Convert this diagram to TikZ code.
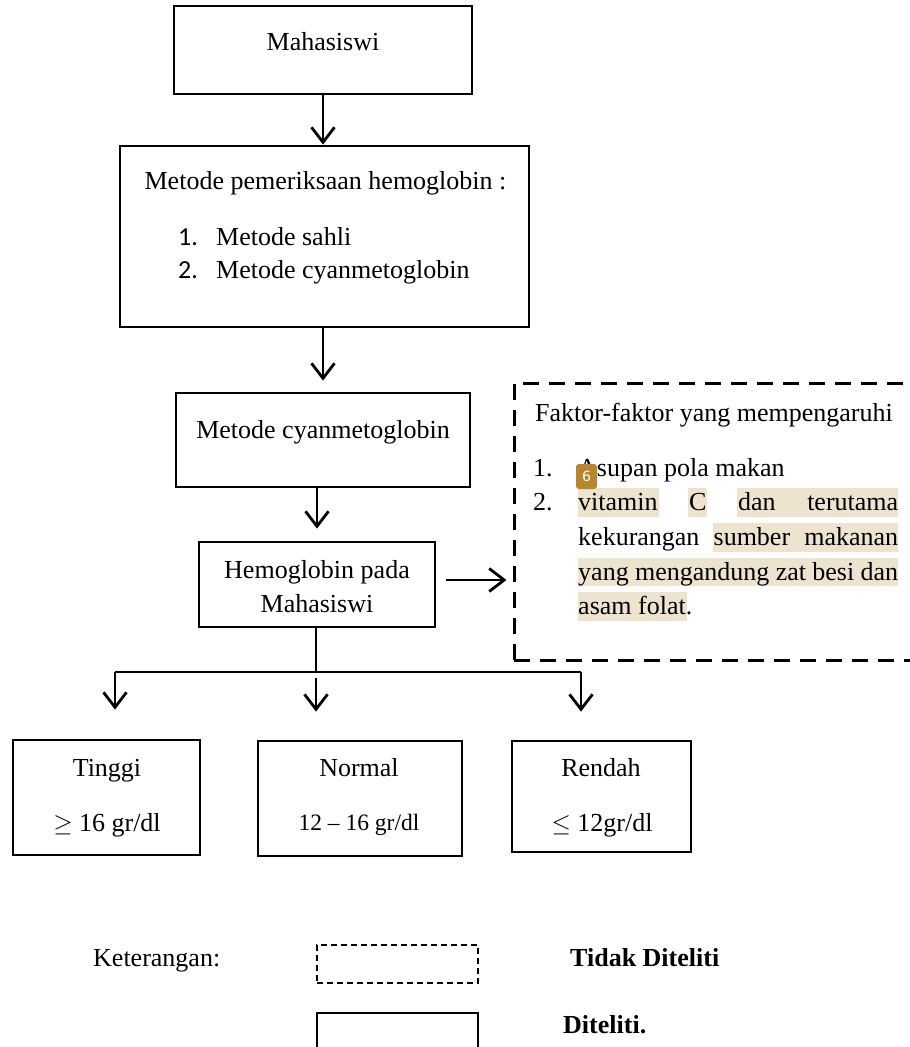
\documentclass[tikz,border=0pt]{standalone}
\usepackage{fontspec}
\setmainfont{Liberation Serif}
\newfontfamily\numfont{Carlito}
\newfontfamily\badgefont{DejaVu Sans}
\usetikzlibrary{arrows.meta}
\definecolor{hlc}{HTML}{EDE3CF}
\definecolor{badgec}{HTML}{B8862E}
\tikzset{
  box/.style={draw, line width=2.8pt, inner sep=0pt},
  dbox/.style={draw, line width=3pt, dash pattern=on 16pt off 10pt, inner sep=0pt},
  arr/.style={line width=2.8pt, -{Straight Barb[length=15pt,width=23pt]}},
  ln/.style={line width=2.8pt},
  txt/.style={font=\fontsize{26}{34}\selectfont, inner sep=0pt, anchor=base},
  txtl/.style={txt, anchor=base west},
  hl/.style={fill=hlc, draw=none},
}
\begin{document}
\begin{tikzpicture}[x=1pt,y=-1pt]
\useasboundingbox[fill=white] (0,0) rectangle (910,1047);

% boxes
\node[box, minimum width=298pt, minimum height=88pt] (mah) at (323,50) {};
\node[box, minimum width=409pt, minimum height=181pt] (met) at (324.5,236.5) {};
\node[box, minimum width=294pt, minimum height=94pt] (cyan) at (323,440) {};
\node[box, minimum width=236pt, minimum height=85pt] (hb) at (317,584.5) {};
\node[dbox, minimum width=420pt, minimum height=277pt] (fak) at (724,521.5) {};
\node[box, minimum width=187pt, minimum height=115pt] (ting) at (106.5,797.5) {};
\node[box, minimum width=204pt, minimum height=115pt] (norm) at (360,798.5) {};
\node[box, minimum width=179pt, minimum height=111pt] (rend) at (601.5,796.5) {};

% texts
\node[txt] (tmah) at (323,50) {Mahasiswi};
\node[txt] (tmet) at (325.5,189) {Metode pemeriksaan hemoglobin :};
\node[txtl] (n1) at (178,245) {\numfont 1.};
\node[txtl] (i1) at (216,245) {Metode sahli};
\node[txtl] (n2) at (178,278) {\numfont 2.};
\node[txtl] (i2) at (216,278) {Metode cyanmetoglobin};
\node[txt] (tcyan) at (323,438) {Metode cyanmetoglobin};
\node[txt] (thb1) at (317,578) {Hemoglobin pada};
\node[txt] (thb2) at (317,612) {Mahasiswi};

% highlights in factor box
\fill[hl] (578,488) rectangle (659,517);
\fill[hl] (688,488) rectangle (707,517);
\fill[hl] (737,488) rectangle (898,517);
\fill[hl] (713,523) rectangle (898,552);
\fill[hl] (578,558) rectangle (898,586);
\fill[hl] (578,592) rectangle (687,621);

\node[txtl] (tfak) at (535,421) {Faktor-faktor yang mempengaruhi};
\node[txtl] (f1n) at (533,476) {1.};
\node[txtl] (f1) at (578,476) {Asupan pola makan};
\node[txtl] (f2n) at (533,510) {2.};
\node[txtl] (f2a) at (578,510) {\makebox[320pt][s]{vitamin\hfill C\hfill dan\hfill terutama}};
\node[txtl] (f2b) at (578,545) {\makebox[320pt][s]{kekurangan\hfill sumber\hfill makanan}};
\node[txtl] (f2c) at (578,580) {\makebox[320pt][s]{yang mengandung zat besi dan}};
\node[txtl] (f2d) at (578,614) {asam folat.};
\node[fill=badgec, rounded corners=3pt, minimum width=21pt, minimum height=25pt, inner sep=0pt, text=white, font=\badgefont\fontsize{14}{14}\selectfont] (badge) at (586.5,476.5) {6};

\node[txt] (tt1) at (107,776) {Tinggi};
\node[txt] (tt2) at (107,831) {$\geq$ 16 gr/dl};
\node[txt] (tn1) at (359,776) {Normal};
\node[txt, font=\fontsize{23.5}{30}\selectfont] (tn2) at (359,830) {12 -- 16 gr/dl};
\node[txt] (tr1) at (601,776) {Rendah};
\node[txt] (tr2) at (602,831) {$\leq$ 12gr/dl};

% connectors
\draw[arr] (mah.south) -- (mah.south |- met.north);
\draw[arr, shorten >=11pt] (cyan.north |- met.south) -- (cyan.north);
\draw[arr, shorten >=12pt] (hb.north |- cyan.south) -- (hb.north);
\draw[arr, shorten <=10pt, shorten >=6pt] (hb.east |- 0,580) -- (fak.west |- 0,580);
\coordinate (jn) at (316,672);
\coordinate (bl) at (115,672);
\coordinate (br) at (581,672);
\draw[ln] (jn |- hb.south) -- (jn);
\draw[ln] (bl) -- (br);
\draw[arr, shorten >=29pt] (bl) -- (bl |- ting.north);
\draw[arr, shorten <=6pt, shorten >=28pt] (jn) -- (jn |- norm.north);
\draw[arr, shorten >=28pt] (br) -- (br |- rend.north);

% legend
\node[txtl] (ket) at (93,966) {Keterangan:};
\node[draw, line width=1.5pt, dash pattern=on 6pt off 4pt, minimum width=161pt, minimum height=38pt, inner sep=0pt] (legd) at (397.5,964) {};
\node[txtl, font=\bfseries\fontsize{26}{34}\selectfont] (legdt) at (570,966) {Tidak Diteliti};
\node[draw, line width=1.5pt, minimum width=161pt, minimum height=50pt, inner sep=0pt] (legs) at (397.5,1038) {};
\node[txtl, font=\bfseries\fontsize{26}{34}\selectfont] (legst) at (563,1033) {Diteliti.};
\end{tikzpicture}
\end{document}
